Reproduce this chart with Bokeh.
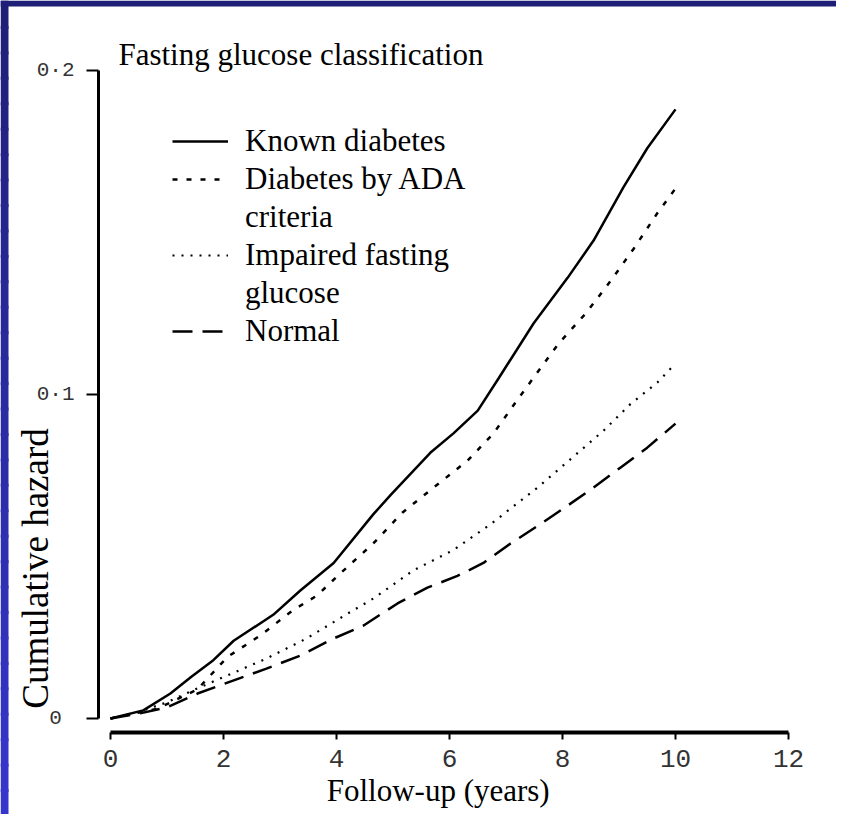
import math
from bokeh.plotting import figure
from bokeh.models import Label, Legend, LegendItem, FixedTicker, BoxAnnotation
from bokeh.embed import file_html
from bokeh.resources import INLINE

# ---- data ----
known_x = [0, 0.58, 1.06, 1.42, 1.82, 2.18, 2.88, 3.36, 3.95, 4.65, 4.96, 5.66, 6.07, 6.5, 6.87, 7.49, 8.09, 8.55, 9.08, 9.5, 10.0]
known_y = [0, 0.0025, 0.0077, 0.0127, 0.018, 0.024, 0.032, 0.0395, 0.048, 0.063, 0.069, 0.082, 0.088, 0.095, 0.105, 0.122, 0.136, 0.1475, 0.164, 0.176, 0.188]

ada_x = [0, 0.83, 1.54, 2.07, 2.65, 3.22, 3.66, 4.0, 4.65, 5.17, 5.72, 6.32, 6.78, 7.22, 7.93, 8.41, 8.85, 9.26, 9.68, 10.0]
ada_y = [0, 0.003, 0.009, 0.019, 0.0256, 0.0333, 0.038, 0.0437, 0.054, 0.0636, 0.0713, 0.0796, 0.088, 0.0988, 0.1157, 0.125, 0.135, 0.145, 0.156, 0.1636]

ifg_x = [0, 0.5, 1.0, 1.5, 1.99, 2.76, 3.47, 4.2, 4.65, 5.36, 6.07, 6.73, 7.56, 8.14, 8.73, 9.2, 9.68, 10.0]
ifg_y = [0, 0.002, 0.005, 0.009, 0.0127, 0.0185, 0.0247, 0.0324, 0.037, 0.0457, 0.052, 0.060, 0.0713, 0.080, 0.0889, 0.097, 0.1037, 0.1096]

norm_x = [0, 0.5, 1.0, 1.54, 2.17, 2.76, 3.36, 3.95, 4.48, 5.08, 5.61, 6.14, 6.6, 7.08, 7.61, 8.09, 8.55, 9.03, 9.5, 10.0]
norm_y = [0, 0.0015, 0.0034, 0.0077, 0.0117, 0.0154, 0.0194, 0.0247, 0.0287, 0.0355, 0.0404, 0.044, 0.048, 0.054, 0.060, 0.0657, 0.0713, 0.0775, 0.0836, 0.091]

x_ticks = [0, 2, 4, 6, 8, 10, 12]
y_ticks = [0, 0.1, 0.2]
y_tick_labels = {0: "0\u00a0", 0.1: "0\u00b71", 0.2: "0\u00b72"}

title_text = "Fasting glucose classification"
x_title = "Follow-up (years)"
y_title = "Cumulative hazard"

SERIF = "Liberation Serif"
TICKFONT = "Liberation Mono"

W, H = 836, 814
X0, X1 = -1.9469, 12.8496
Y0, Y1 = -0.02963, 0.22160

p = figure(width=W, height=H, output_backend="svg", toolbar_location=None,
           x_range=(X0, X1), y_range=(Y0, Y1),
           min_border_left=0, min_border_right=0, min_border_top=0, min_border_bottom=0)
p.background_fill_color = "white"
p.border_fill_color = "white"
p.outline_line_color = None
p.xgrid.visible = False
p.ygrid.visible = False

# slide frame: dark top strip and blue gradient strip on the left (decoration)
strip_right = X0 + (X1 - X0) * 8 / W
strip_bottom = Y1 - (Y1 - Y0) * 6 / H
n_bands = 32
overlap = (Y1 - Y0) * 3 / H
c_top, c_bot = (0x1f, 0x1f, 0x78), (0x36, 0x36, 0xcc)
for i in range(n_bands):
    t = i / (n_bands - 1)
    col = "#%02x%02x%02x" % tuple(int(round(a + (b - a) * t)) for a, b in zip(c_top, c_bot))
    band_top = Y1 - (Y1 - Y0) * i / n_bands
    band_bot = Y1 - (Y1 - Y0) * (i + 1) / n_bands - overlap
    p.add_layout(BoxAnnotation(right=strip_right, top=band_top, bottom=band_bot,
                               fill_color=col, fill_alpha=1, line_alpha=0, level="underlay"))
p.add_layout(BoxAnnotation(bottom=strip_bottom, fill_color="#1f1f78", fill_alpha=1,
                           line_alpha=0, level="underlay"))

# x axis (detached, R-style)
xa = p.xaxis[0]
xa.fixed_location = -0.00432
xa.bounds = (0, 12)
xa.ticker = FixedTicker(ticks=x_ticks)
xa.axis_line_width = 4
xa.axis_line_color = "black"
xa.major_tick_out = 7
xa.major_tick_in = 0
xa.major_tick_line_width = 2
xa.minor_tick_out = 0
xa.minor_tick_in = 0
xa.major_label_text_font = TICKFONT
xa.major_label_text_font_size = "26px"
xa.major_label_text_color = "#333333"
xa.major_label_standoff = 11

# y axis
ya = p.yaxis[0]
ya.fixed_location = -0.2124
ya.bounds = (0, 0.2)
ya.ticker = FixedTicker(ticks=y_ticks)
ya.major_label_overrides = y_tick_labels
ya.axis_line_width = 3
ya.axis_line_color = "black"
ya.major_tick_out = 12
ya.major_tick_in = 0
ya.major_tick_line_width = 2
ya.minor_tick_out = 0
ya.minor_tick_in = 0
ya.major_label_text_font = TICKFONT
ya.major_label_text_font_size = "21px"
ya.major_label_text_color = "#333333"
ya.major_label_standoff = 12

r_known = p.line(known_x, known_y, line_color="black", line_width=2.5)
r_ada = p.line(ada_x, ada_y, line_color="black", line_width=2.5, line_dash="5 9")
r_ifg = p.line(ifg_x, ifg_y, line_color="black", line_width=2.2, line_dash="2 7")
r_norm = p.line(norm_x, norm_y, line_color="black", line_width=2.5, line_dash="20 10")
r_blank1 = p.line([], [], line_alpha=0)
r_blank2 = p.line([], [], line_alpha=0)

legend = Legend(items=[
    LegendItem(label="Known diabetes", renderers=[r_known]),
    LegendItem(label="Diabetes by ADA", renderers=[r_ada]),
    LegendItem(label="criteria", renderers=[r_blank1]),
    LegendItem(label="Impaired fasting", renderers=[r_ifg]),
    LegendItem(label="glucose", renderers=[r_blank2]),
    LegendItem(label="Normal", renderers=[r_norm]),
], location=(172, 465))
legend.margin = 0
legend.padding = 0
legend.spacing = 2
legend.glyph_width = 56
legend.glyph_height = 20
legend.label_standoff = 17
legend.label_text_font = SERIF
legend.label_text_font_size = "31px"
legend.label_text_color = "black"
legend.border_line_color = None
legend.background_fill_alpha = 0
p.add_layout(legend)

p.add_layout(Label(x=0.14, y=0.2050, text=title_text, text_font=SERIF, text_font_size="31px",
                   text_color="black", text_align="left", text_baseline="alphabetic"))
p.add_layout(Label(x=5.8, y=-0.02222, text=x_title, text_font=SERIF, text_font_size="31px",
                   text_color="black", text_align="center", text_baseline="middle"))
p.add_layout(Label(x=-1.327, y=0.0463, text=y_title, text_font=SERIF, text_font_size="37px",
                   text_color="black", text_align="center", text_baseline="middle", angle=math.pi / 2))

open("out.html", "w").write(file_html(p, INLINE))
